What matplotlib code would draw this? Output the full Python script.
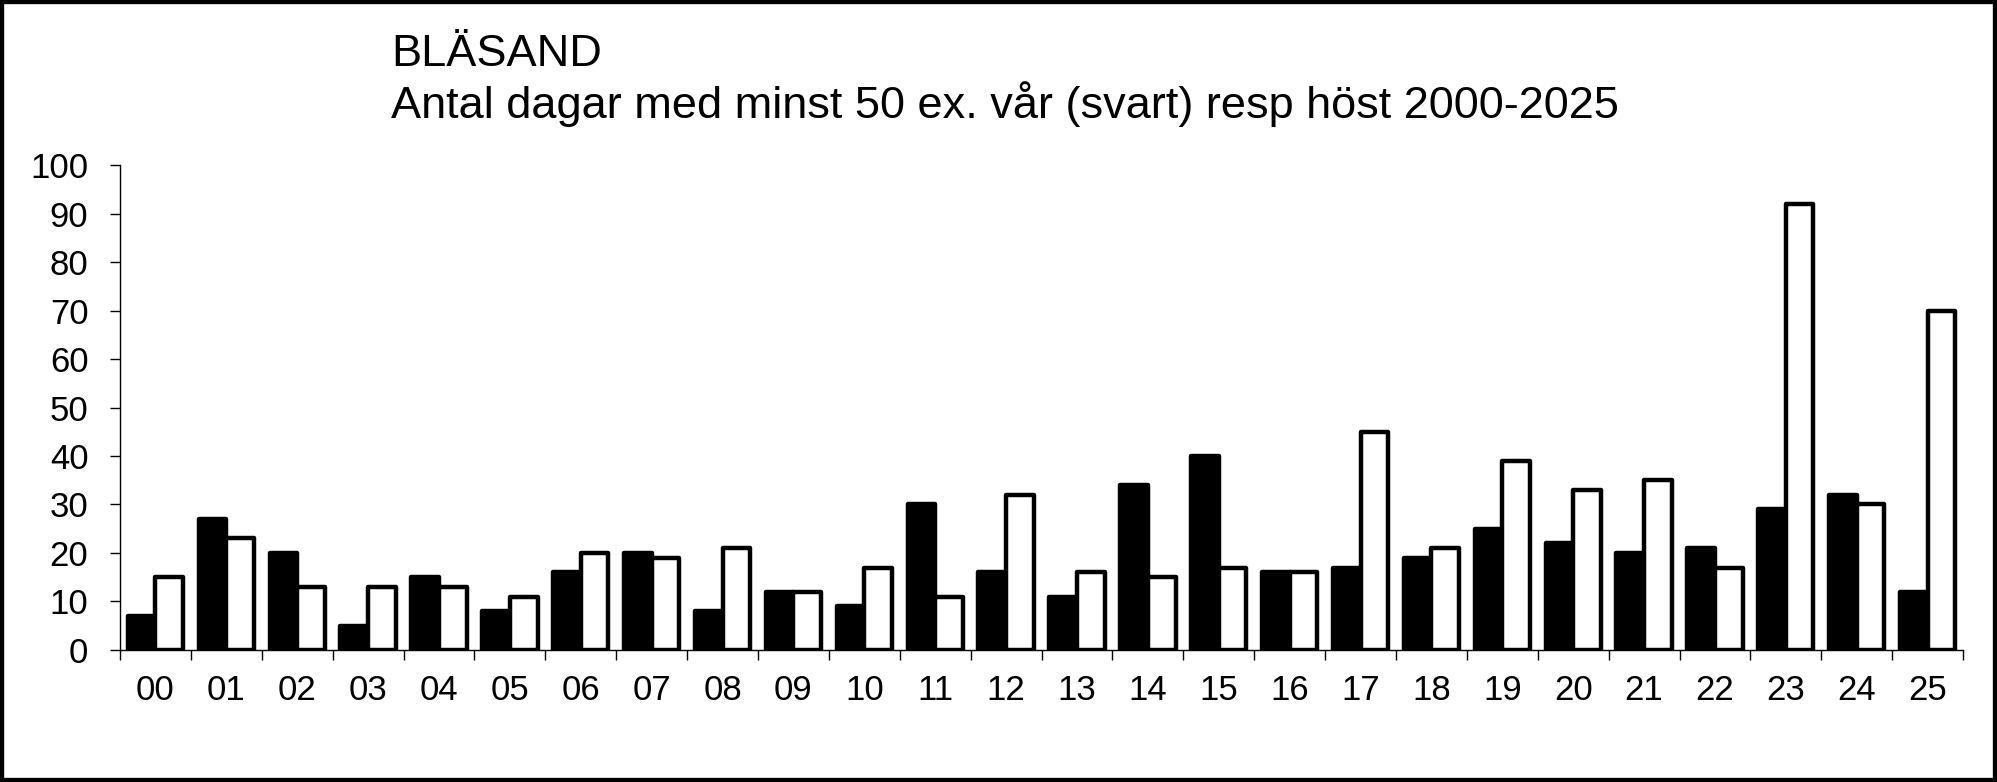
import numpy as np
import matplotlib
matplotlib.use("Agg")
import matplotlib.pyplot as plt
from matplotlib.patches import Rectangle

# Bläsand: antal dagar med minst 50 ex.
years = ["00", "01", "02", "03", "04", "05", "06", "07", "08", "09", "10", "11", "12",
         "13", "14", "15", "16", "17", "18", "19", "20", "21", "22", "23", "24", "25"]
var_dagar = [7, 27, 20, 5, 15, 8, 16, 20, 8, 12, 9, 30, 16,
             11, 34, 40, 16, 17, 19, 25, 22, 20, 21, 29, 32, 12]
host_dagar = [15, 23, 13, 13, 13, 11, 20, 19, 21, 12, 17, 11, 32,
              16, 15, 17, 16, 45, 21, 39, 33, 35, 17, 92, 30, 70]
y_ticks = [0, 10, 20, 30, 40, 50, 60, 70, 80, 90, 100]

plt.rcParams['font.family'] = ['Liberation Sans', 'DejaVu Sans']

fig = plt.figure(figsize=(19.97, 7.82), dpi=100)
ax = fig.add_axes([0.0601, 0.1688, 0.983 - 0.0601, 0.789 - 0.1688])

x = np.arange(len(years))
w = 0.39
ax.bar(x - w / 2, var_dagar, width=w, color='black', edgecolor='black', linewidth=3.2, joinstyle='round')
ax.bar(x + w / 2, host_dagar, width=w, color='white', edgecolor='black', linewidth=3.2, joinstyle='round')

ax.set_xlim(-0.5, len(years) - 0.5)
ax.set_ylim(0, 100)
ax.set_yticks(y_ticks)
ax.set_yticklabels([str(v) for v in y_ticks], fontsize=25)
ax.set_xticks(x)
ax.set_xticklabels(years, fontsize=25)
ax.set_xticks(np.arange(-0.5, len(years)), minor=True)

ax.tick_params(axis='x', which='major', length=0, pad=17)
ax.tick_params(axis='x', which='minor', length=7.5, width=1, direction='out')
ax.tick_params(axis='y', length=7.2, width=1, direction='out', pad=15.5)

for s in ['top', 'right']:
    ax.spines[s].set_visible(False)
for s in ['left', 'bottom']:
    ax.spines[s].set_linewidth(1)

fig.text(0.1958, 0.9156, "BLÄSAND", fontsize=32.5, va='baseline', ha='left')
fig.text(0.1958, 0.849, "Antal dagar med minst 50 ex. vår (svart) resp höst 2000-2025",
         fontsize=32.5, va='baseline', ha='left')

# outer frame
fig.patches.append(Rectangle((0, 0), 1, 1, transform=fig.transFigure, fill=False,
                             edgecolor='black', linewidth=6, zorder=10))

fig.savefig("out.png", dpi=100)
